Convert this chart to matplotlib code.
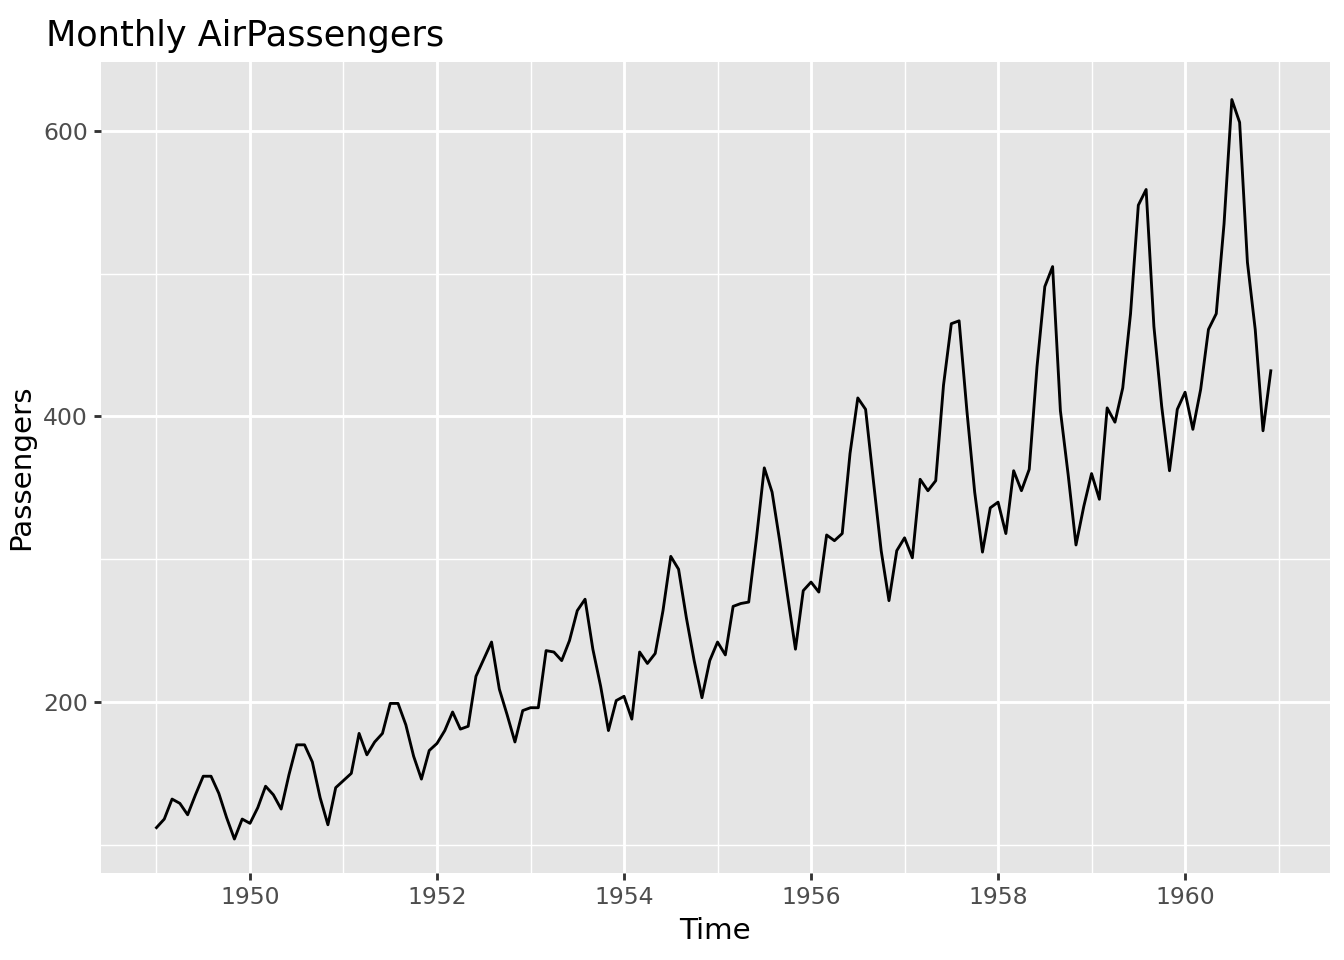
import numpy as np
import matplotlib
matplotlib.use("Agg")
import matplotlib.pyplot as plt

passengers = [
    112, 118, 132, 129, 121, 135, 148, 148, 136, 119, 104, 118,
    115, 126, 141, 135, 125, 149, 170, 170, 158, 133, 114, 140,
    145, 150, 178, 163, 172, 178, 199, 199, 184, 162, 146, 166,
    171, 180, 193, 181, 183, 218, 230, 242, 209, 191, 172, 194,
    196, 196, 236, 235, 229, 243, 264, 272, 237, 211, 180, 201,
    204, 188, 235, 227, 234, 264, 302, 293, 259, 229, 203, 229,
    242, 233, 267, 269, 270, 315, 364, 347, 312, 274, 237, 278,
    284, 277, 317, 313, 318, 374, 413, 405, 355, 306, 271, 306,
    315, 301, 356, 348, 355, 422, 465, 467, 404, 347, 305, 336,
    340, 318, 362, 348, 363, 435, 491, 505, 404, 359, 310, 337,
    360, 342, 406, 396, 420, 472, 548, 559, 463, 407, 362, 405,
    417, 391, 419, 461, 472, 535, 622, 606, 508, 461, 390, 432,
]
start_year = 1949
time = start_year + np.arange(len(passengers)) / 12

fig = plt.figure(figsize=(7, 5), dpi=192)
ax = fig.add_axes([0.0751, 0.0906, 0.9145, 0.8448])
ax.set_facecolor("#E5E5E5")
for s in ax.spines.values():
    s.set_visible(False)

ax.plot(time, passengers, color="black", lw=1.07)
ax.set_xlim(1948.406, 1961.55)
ax.set_ylim(80.2, 648.3)

ax.set_xticks([1950, 1952, 1954, 1956, 1958, 1960])
ax.set_xticks([1949, 1951, 1953, 1955, 1957, 1959, 1961], minor=True)
ax.set_yticks([200, 400, 600])
ax.set_yticks([100, 300, 500], minor=True)
ax.grid(which="major", color="white", lw=1.07)
ax.grid(which="minor", color="white", lw=0.53)
ax.set_axisbelow(True)
ax.tick_params(which="major", length=2.75, color="#333333", width=1.07,
               labelsize=8.8, labelcolor="#4D4D4D", pad=2.2)
ax.tick_params(which="minor", length=0)

ax.set_xlabel("Time", fontsize=11, labelpad=3)
ax.set_ylabel("Passengers", fontsize=11, labelpad=3)
ax.set_title("Monthly AirPassengers", fontsize=13.2, loc="left", x=-0.045, pad=6)

fig.savefig("out.png", dpi=192)
